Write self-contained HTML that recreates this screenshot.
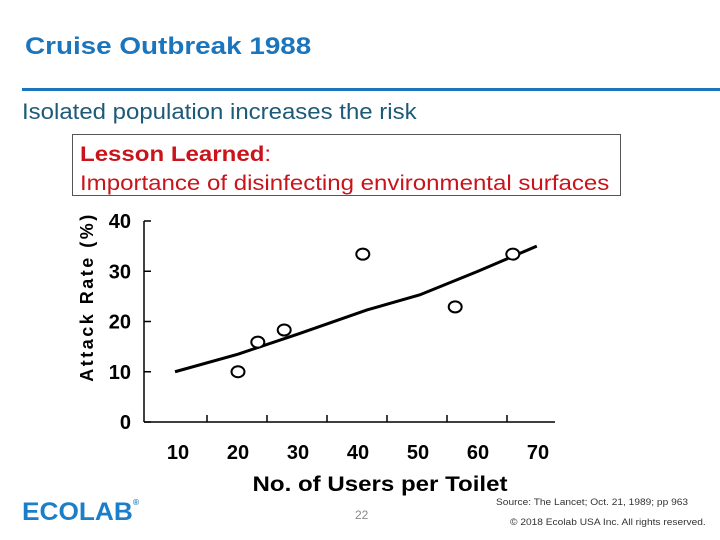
<!DOCTYPE html>
<html><head><meta charset="utf-8"><style>
body{margin:0;width:720px;height:540px;background:#fff;font-family:"Liberation Sans",sans-serif;position:relative;overflow:hidden}
.a{position:absolute;white-space:nowrap;transform-origin:0 0}
</style></head><body>
<div class="a" style="left:25px;top:33px;font-size:24px;font-weight:bold;color:#1b75bc;transform:scaleX(1.16)">Cruise Outbreak 1988</div>
<div class="a" style="left:22px;top:88px;width:698px;height:3px;background:#1b75bc"></div>
<div class="a" style="left:22px;top:99px;font-size:22px;color:#1d5a78;transform:scaleX(1.09)">Isolated population increases the risk</div>
<div class="a" style="left:72px;top:134px;width:549px;height:62px;border:1px solid #555;box-sizing:border-box"></div>
<div class="a" style="left:80px;top:140px;font-size:21px;line-height:29px;color:#c8141a;transform:scaleX(1.145)"><b>Lesson Learned</b>:<br>Importance of disinfecting environmental surfaces</div>
<svg class="a" style="left:0;top:0" width="720" height="540">
<g id="g" font-family="Liberation Sans, sans-serif"></g>
</svg>
<div class="a" style="left:22px;top:498px;font-size:25px;font-weight:900;color:#1a7fc8;transform:scaleX(1.05)">ECOLAB<span style="font-size:8px;vertical-align:top">®</span></div>
<div class="a" style="left:355px;top:508px;font-size:12px;color:#888">22</div>
<div class="a" style="left:496px;top:497px;font-size:9px;color:#333;transform:scaleX(1.13)">Source:  The Lancet; Oct. 21, 1989; pp 963</div>
<div class="a" style="left:510px;top:517px;font-size:9px;color:#333;transform:scaleX(1.13)">© 2018 Ecolab USA Inc. All rights reserved.</div>
<script>
const xLabels=[10,20,30,40,50,60,70];
const yLabels=[0,10,20,30,40];
const ptX=[20,23.3,27.7,40.8,56.2,65.8];
const ptY=[10,15.9,18.3,33.4,22.9,33.4];
const fitX=[9.5,20,30,41.5,50.3,60,69.8];
const fitY=[10,13.5,17.5,22.3,25.3,30,35];
const NS='http://www.w3.org/2000/svg';
const g=document.getElementById('g');
const xs=v=>178+(v-10)*6.0;
const ys=v=>422-v*5.025;
function mk(t,a){const e=document.createElementNS(NS,t);for(const k in a)e.setAttribute(k,a[k]);g.appendChild(e);return e;}
let e=mk('line',{x1:144,y1:221,x2:144,y2:422,stroke:'#000','stroke-width':1.5});

e=mk('line',{x1:144,y1:422,x2:555,y2:422,stroke:'#000','stroke-width':1.5});

yLabels.forEach(v=>{
 let t=mk('line',{x1:144,y1:ys(v),x2:151,y2:ys(v),stroke:'#000','stroke-width':1.5});
 
 let l=mk('text',{x:131,y:ys(v)+7,'text-anchor':'end','font-size':20,'font-weight':'bold'});l.textContent=v;
 
});
xLabels.forEach((v,i)=>{
 if(i<xLabels.length-1){
  let tx=xs(v)+29;
  let t=mk('line',{x1:tx,y1:415,x2:tx,y2:422,stroke:'#000','stroke-width':1.5});
  
 }
 let l=mk('text',{x:xs(v),y:459,'text-anchor':'middle','font-size':20,'font-weight':'bold'});l.textContent=v;
 
});
let d=fitX.map((v,i)=>(i?'L':'M')+xs(v)+','+ys(fitY[i])).join(' ');
e=mk('path',{d:d,fill:'none',stroke:'#000','stroke-width':3});

ptX.forEach((v,i)=>{
 let c=mk('ellipse',{cx:xs(v),cy:ys(ptY[i]),rx:6.5,ry:5.5,fill:'#fff',stroke:'#000','stroke-width':2});
 
});
e=mk('text',{x:380,y:491,'text-anchor':'middle','font-size':21,'font-weight':'bold',textLength:255,lengthAdjust:'spacingAndGlyphs'});e.textContent='No. of Users per Toilet';

e=mk('text',{x:0,y:0,'text-anchor':'middle','font-size':18,'font-weight':'bold','letter-spacing':2.5,transform:'translate(93,297) rotate(-90)'});e.textContent='Attack Rate (%)';

</script>
</body></html>
